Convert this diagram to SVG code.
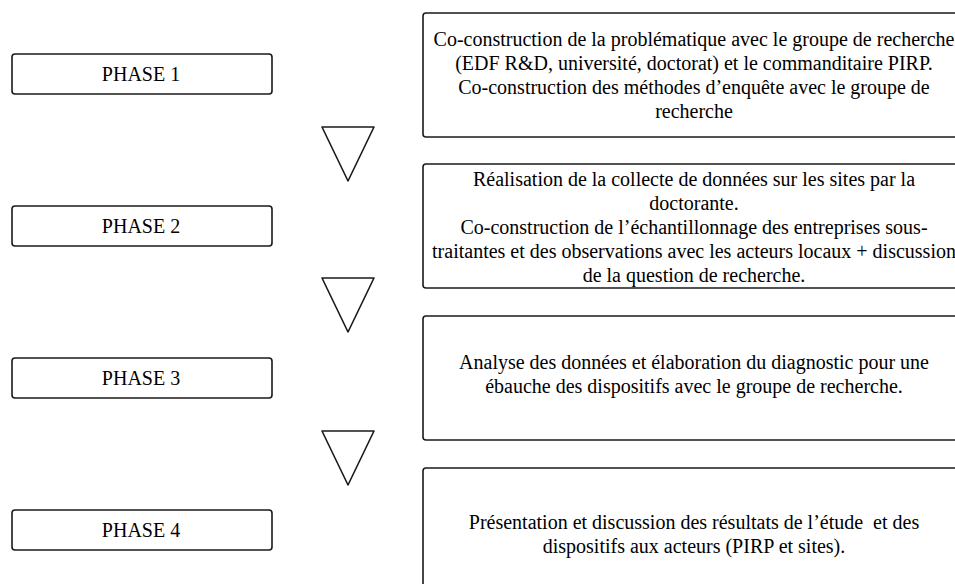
<svg xmlns="http://www.w3.org/2000/svg" width="955" height="584" viewBox="0 0 955 584">
<style>
.box{fill:#fff;stroke:#1a1a1a;stroke-width:1.6}
.tri{fill:#fff;stroke:#1a1a1a;stroke-width:1.6;stroke-linejoin:round}
text{font-family:"Liberation Serif","Times New Roman",serif;font-size:20px;fill:#000;text-anchor:middle}
</style>
<rect width="955" height="584" fill="#fff"/>
<g id="phase1"><rect class="box" x="12" y="54" width="260" height="40" rx="3"/><text x="141" y="81">PHASE 1</text></g>
<g id="phase2"><rect class="box" x="12" y="206" width="260" height="40" rx="3"/><text x="141" y="233">PHASE 2</text></g>
<g id="phase3"><rect class="box" x="12" y="358" width="260" height="40" rx="3"/><text x="141" y="385">PHASE 3</text></g>
<g id="phase4"><rect class="box" x="12" y="510" width="260" height="40" rx="3"/><text x="141" y="537">PHASE 4</text></g>
<g id="desc1"><rect class="box" x="423" y="13" width="545" height="124" rx="3"/>
<text x="694" y="46">Co-construction de la problématique avec le groupe de recherche</text>
<text x="694" y="70">(EDF R&amp;D, université, doctorat) et le commanditaire PIRP.</text>
<text x="694" y="94">Co-construction des méthodes d’enquête avec le groupe de</text>
<text x="694" y="118">recherche</text></g>
<g id="desc2"><rect class="box" x="423" y="164" width="545" height="124" rx="3"/>
<text x="694" y="186">Réalisation de la collecte de données sur les sites par la</text>
<text x="694" y="210">doctorante.</text>
<text x="694" y="234">Co-construction de l’échantillonnage des entreprises sous-</text>
<text x="694" y="258">traitantes et des observations avec les acteurs locaux + discussion</text>
<text x="694" y="282">de la question de recherche.</text></g>
<g id="desc3"><rect class="box" x="423" y="316" width="545" height="124" rx="3"/>
<text x="694" y="369">Analyse des données et élaboration du diagnostic pour une</text>
<text x="694" y="393">ébauche des dispositifs avec le groupe de recherche.</text></g>
<g id="desc4"><rect class="box" x="423" y="468" width="545" height="124" rx="3"/>
<text x="694" y="529" xml:space="preserve">Présentation et discussion des résultats de l’étude  et des</text>
<text x="694" y="553">dispositifs aux acteurs (PIRP et sites).</text></g>
<g id="connectors">
<polygon class="tri" points="322,127 374,127 348,181"/>
<polygon class="tri" points="322,278 374,278 348,332"/>
<polygon class="tri" points="322,431 374,431 348,485"/>
</g>
</svg>
